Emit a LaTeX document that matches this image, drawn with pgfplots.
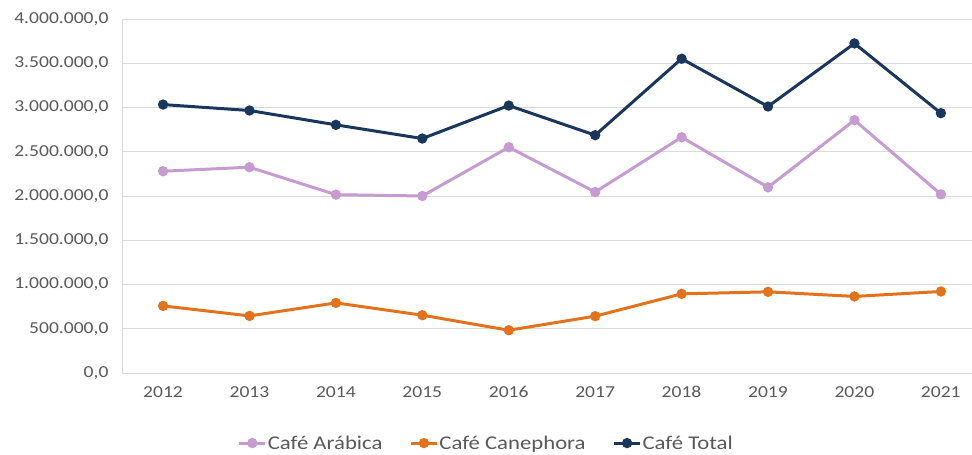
\documentclass[border=0pt]{standalone}
\usepackage{fontspec}
\setmainfont{Carlito}[FakeStretch=1.17]
\usepackage{pgfplots}
\pgfplotsset{compat=1.18}
\definecolor{arabica}{HTML}{C59BD2}
\definecolor{canephora}{HTML}{E2731C}
\definecolor{total}{HTML}{1B365D}
\definecolor{ticktext}{HTML}{595959}
\definecolor{gridc}{HTML}{D9D9D9}

\begin{document}
\begin{tikzpicture}
  \begin{axis}[
    name=ax,
    scale only axis,
    width=850bp, height=354bp,
    xmin=2011.525, xmax=2021.36,
    ymin=0, ymax=4000000,
    xtick={2012,...,2021},
    ytick={0,500000,...,4000000},
    scaled y ticks=false,
    ymajorgrids, grid style={gridc, line width=0.8pt},
    axis x line*=bottom, axis y line*=left,
    axis line style={gridc, line width=0.8pt},
    major tick length=0pt,
    tick label style={font=\fontsize{16.8}{19}\selectfont, text=ticktext},
    xticklabel style={/pgf/number format/set thousands separator={}, yshift=-10bp},
    yticklabel style={/pgf/number format/.cd, fixed, fixed zerofill, precision=1,
      1000 sep={.}, dec sep={,}, assume math mode=true, /tikz/.cd, xshift=-10bp},
    xticklabel style={/pgf/number format/assume math mode=true},
    legend columns=3,
    legend style={at={(0.428,-0.198)}, anchor=center, draw=none, fill=none,
      font=\fontsize{19.5}{22}\selectfont, text=ticktext,
      /tikz/every odd column/.append style={column sep=0bp},
      /tikz/every even column/.append style={column sep=26bp},
      nodes={inner xsep=1bp}},
    legend image code/.code={
      \draw[mark repeat=2, mark phase=2]
        plot coordinates {(0bp,0bp) (13bp,0bp) (26bp,0bp)};},
    every axis plot/.append style={line width=3pt, mark=*, mark size=3.6pt},
  ]
    \addplot[color=arabica] coordinates {
      (2012,2280000) (2013,2325000) (2014,2015000) (2015,2000000) (2016,2551000)
      (2017,2045000) (2018,2664000) (2019,2098000) (2020,2857000) (2021,2019000)};
    \addplot[color=canephora] coordinates {
      (2012,758000) (2013,645000) (2014,792000) (2015,653000) (2016,483000)
      (2017,642000) (2018,894000) (2019,917000) (2020,865000) (2021,921000)};
    \addplot[color=total] coordinates {
      (2012,3033000) (2013,2966000) (2014,2804000) (2015,2649000) (2016,3022000)
      (2017,2687000) (2018,3551000) (2019,3011000) (2020,3724000) (2021,2936000)};
    \legend{Café Arábica, Café Canephora, Café Total}
  \end{axis}
  \pgfresetboundingbox
  \useasboundingbox ([xshift=-122bp, yshift=19bp]ax.north west)
    rectangle ([yshift=-82bp]ax.south east);
\end{tikzpicture}
\end{document}
